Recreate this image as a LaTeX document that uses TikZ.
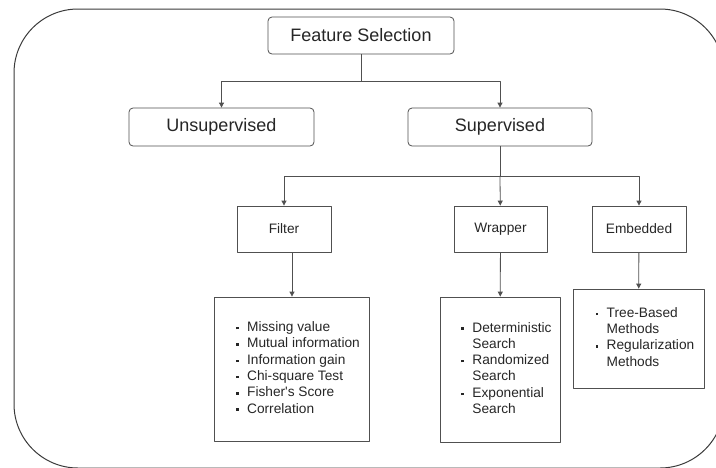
\documentclass[tikz,border=0pt]{standalone}
\usepackage{fontspec}
\setmainfont{Liberation Sans}
\usetikzlibrary{arrows.meta}
\definecolor{frame}{HTML}{3A3A3A}
\definecolor{edge}{HTML}{505050}
\definecolor{ink}{HTML}{262626}
\newcommand{\bul}{\raisebox{2.2pt}{\rule{2.4pt}{2.4pt}}}
\newcommand{\entry}[1]{\makebox[11pt][l]{\bul}#1}
\newcommand{\cont}[1]{\hspace*{11pt}#1}

\begin{document}
\begin{tikzpicture}[x=1pt,y=-1pt,line cap=round,line join=round,
  topbox/.style={draw=edge,rounded corners=4pt,line width=0.8pt,minimum width=186pt,
    minimum height=37pt,inner sep=0pt,text=ink,font=\fontsize{18}{21}\selectfont},
  kindbox/.style={draw=edge,line width=0.8pt,minimum width=94pt,minimum height=46pt,
    inner sep=0pt,text=ink,font=\fontsize{13.7}{16.3}\selectfont},
  listbox/.style={draw=edge,line width=0.8pt,inner sep=0pt,text=ink,
    font=\fontsize{13.7}{16.3}\selectfont},
  link/.style={draw=edge,line width=0.8pt,-{Triangle[length=5pt,width=5pt]}}]
  \useasboundingbox (0,0) rectangle (716,467);
  \clip (0,0) rectangle (716,467);

  % Outer rounded frame, running past the right and bottom edges.
  \draw[frame,line width=1pt,rounded corners=64pt] (14,9) rectangle (724,468);

  % Top of the tree.
  \node[topbox] (fs) at (361,35.5) {Feature Selection};
  \node[topbox,minimum width=185pt,minimum height=38pt] (unsup) at (221.5,127) {Unsupervised};
  \node[topbox,minimum width=184pt,minimum height=38pt] (sup) at (500,127) {Supervised};

  % Three supervised families.
  \node[kindbox] (filter) at (284,229) {Filter};
  \node[kindbox,minimum width=93pt] (wrapper) at (500.5,229) {Wrapper};
  \node[kindbox] (embedded) at (639,229) {Embedded};

  % Method lists.
  \node[listbox,minimum width=155pt,minimum height=144pt] (filterlist) at (291.5,369) {%
    \begin{tabular}{@{\hspace{13pt}}l@{}}
      \entry{Missing value}\\
      \entry{Mutual information}\\
      \entry{Information gain}\\
      \entry{Chi-square Test}\\
      \entry{Fisher\textquotesingle s Score}\\
      \entry{Correlation}
    \end{tabular}};
  \node[listbox,minimum width=120pt,minimum height=145pt] (wrapperlist) at (500,369.5) {%
    \begin{tabular}{@{\hspace{13pt}}l@{}}
      \entry{Deterministic}\\
      \cont{Search}\\
      \entry{Randomized}\\
      \cont{Search}\\
      \entry{Exponential}\\
      \cont{Search}
    \end{tabular}};
  \node[listbox,minimum width=131pt,minimum height=99pt] (embeddedlist) at (638.5,338.5) {%
    \begin{tabular}{@{\hspace{13pt}}l@{}}
      \entry{Tree-Based}\\
      \cont{Methods}\\
      \entry{Regularization}\\
      \cont{Methods}
    \end{tabular}};

  % Connectors.
  \coordinate (split1) at (361,81);
  \coordinate (split2) at (500,176);
  \draw[edge,line width=0.8pt] (fs) -- (split1);
  \draw[link] (split1) -| (unsup);
  \draw[link] (split1) -| (sup);
  \draw[edge,line width=0.8pt] (sup) -- (split2);
  \draw[link] (split2) -| (filter);
  \draw[link] (split2) -- (wrapper);
  \draw[link] (split2) -| (embedded);
  \draw[link] ([xshift=8pt]filter.south) -- ([xshift=8pt]filter.south |- filterlist.north);
  \draw[link] (wrapper) -- (wrapperlist);
  \draw[link] (embedded) -- (embeddedlist);
\end{tikzpicture}
\end{document}
